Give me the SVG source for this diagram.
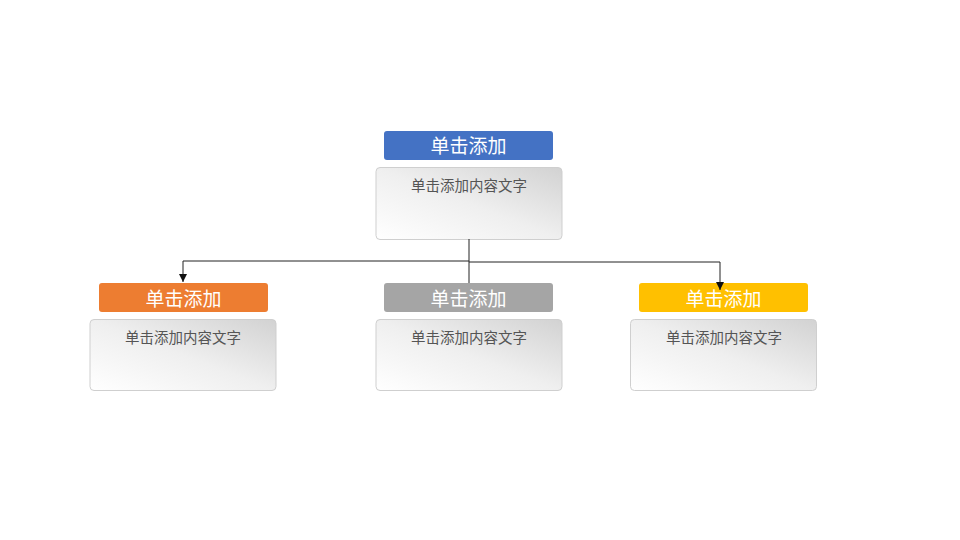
<svg xmlns="http://www.w3.org/2000/svg" width="960" height="540" viewBox="0 0 960 540">
<style>
.title{font-family:"Noto Sans CJK SC","Liberation Sans",sans-serif;font-size:19px;fill:#fff;text-anchor:middle}
.body{font-family:"Noto Sans CJK SC","Liberation Sans",sans-serif;font-size:14.5px;fill:#555;text-anchor:middle}
.box{fill:url(#g);stroke:#cfcfcf;stroke-width:1}
.conn{fill:none;stroke:#222;stroke-width:1}
</style>
<defs>
<linearGradient id="g" x1="0" y1="1" x2="1" y2="0">
<stop offset="0" stop-color="#ffffff"/>
<stop offset="0.5" stop-color="#efefef"/>
<stop offset="1" stop-color="#d2d2d2"/>
</linearGradient>
<marker id="arr" viewBox="0 0 10 10" refX="10" refY="5" markerWidth="8" markerHeight="8" markerUnits="userSpaceOnUse" orient="auto">
<path d="M0,0 L10,5 L0,10 z" fill="#111"/>
</marker>
</defs>
<rect width="960" height="540" fill="#fff"/>
<g id="node-top">
<rect x="384" y="131" width="169" height="29" rx="3" fill="#4472c4"/>
<text class="title" x="468.5" y="153">单击添加</text>
<rect class="box" x="376" y="167.5" width="186" height="72" rx="4"/>
<text class="body" x="469" y="191">单击添加内容文字</text>
</g>
<g id="node-left">
<rect x="99" y="283" width="169" height="29" rx="3" fill="#ed7d31"/>
<text class="title" x="183.5" y="305.5">单击添加</text>
<rect class="box" x="90" y="319.5" width="186" height="71" rx="4"/>
<text class="body" x="183" y="343">单击添加内容文字</text>
</g>
<g id="node-middle">
<rect x="384" y="283" width="169" height="29" rx="3" fill="#a5a5a5"/>
<text class="title" x="468.5" y="305.5">单击添加</text>
<rect class="box" x="376" y="319.5" width="186" height="71" rx="4"/>
<text class="body" x="469" y="343">单击添加内容文字</text>
</g>
<g id="node-right">
<rect x="639" y="283" width="169" height="29" rx="3" fill="#ffc000"/>
<text class="title" x="723.5" y="305.5">单击添加</text>
<rect class="box" x="630.5" y="319.5" width="186" height="71" rx="4"/>
<text class="body" x="724" y="343">单击添加内容文字</text>
</g>
<g id="connectors">
<path class="conn" d="M469,239 V283"/>
<path class="conn" d="M469,261 H183 V282" marker-end="url(#arr)"/>
<path class="conn" d="M469,262 H720 V290" marker-end="url(#arr)"/>
</g>
</svg>
